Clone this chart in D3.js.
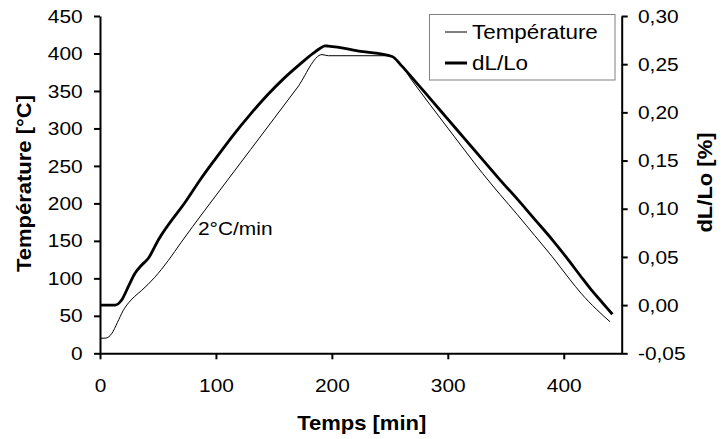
<!DOCTYPE html>
<html>
<head>
<meta charset="utf-8">
<script src="https://cdn.jsdelivr.net/npm/d3@7"></script>
<style>
  body { margin: 0; background: #fff; }
  svg { display: block; font-family: "Liberation Sans", Arial, sans-serif; }
</style>
</head>
<body>
<div id="chart"></div>
<script>
// temperature curve (left axis)
const tempTime = [0, 5, 10, 15, 20, 25, 30, 36, 47, 59, 70, 90, 110, 130, 150, 170, 191.5, 197, 250, 255, 270, 285, 300, 315, 330, 345, 360, 375, 390, 405, 415, 428, 440];
const tempValues = [20, 20.3, 26, 41, 57, 68, 76, 84, 101, 124, 148, 190, 231, 272, 313, 354, 398.5, 397, 397, 393, 362, 331, 300.5, 270, 240, 212, 185, 157, 129, 99, 80, 59, 42];

// dilatation curve (right axis)
const dlTime = [0, 13, 18.7, 24.4, 30.2, 36, 41.7, 50.3, 74.8, 86.3, 100, 115, 130, 144, 158, 172, 184, 190, 194, 197, 225, 252, 260, 271, 285, 300, 315, 330, 345, 360, 375, 390, 402, 414, 424, 433, 442];
const dlValues = [0, 0, 0.0053, 0.0191, 0.033, 0.0416, 0.0486, 0.0676, 0.1091, 0.1298, 0.1525, 0.1765, 0.1985, 0.2175, 0.2345, 0.2495, 0.2615, 0.2665, 0.269, 0.2688, 0.2633, 0.258, 0.2485, 0.2335, 0.214, 0.193, 0.172, 0.151, 0.130, 0.110, 0.089, 0.068, 0.050, 0.031, 0.0155, 0.003, -0.0095];

const timeTicks = [0, 100, 200, 300, 400];
const tempTicks = [0, 50, 100, 150, 200, 250, 300, 350, 400, 450];
const dlTicks = [-0.05, 0, 0.05, 0.10, 0.15, 0.20, 0.25, 0.30];
const seriesNames = ['Température', 'dL/Lo'];
const rateLabel = '2°C/min';

const width = 722, height = 439;
const SX = 1.1; // text looks horizontally stretched in the original

const svg = d3.select('#chart').append('svg')
  .attr('width', width)
  .attr('height', height);

const x = d3.scaleLinear().domain([0, 450]).range([100, 621.7]);
const yTemp = d3.scaleLinear().domain([0, 450]).range([353.3, 16]);
const yDl = d3.scaleLinear().domain([-0.05, 0.30]).range([353.3, 16]);

function styleAxis(g, textX, textY) {
  g.attr('font-size', 19).attr('font-family', null);
  g.select('.domain').attr('stroke', '#000').attr('stroke-width', 2);
  g.selectAll('.tick line').attr('stroke', '#000').attr('stroke-width', 2);
  g.selectAll('.tick text').attr('fill', '#000').attr('transform', `scale(${SX},1)`);
  if (textX !== null) g.selectAll('.tick text').attr('x', textX);
  if (textY !== null) g.selectAll('.tick text').attr('y', textY);
}

// axes
svg.append('g')
  .attr('transform', `translate(${x(0)},0)`)
  .call(d3.axisLeft(yTemp).tickValues(tempTicks).tickSize(6).tickSizeOuter(0))
  .call(g => styleAxis(g, -17.3 / SX, null));

svg.append('g')
  .attr('transform', `translate(${x(450)},0)`)
  .call(d3.axisRight(yDl).tickValues(dlTicks).tickSize(6).tickSizeOuter(0)
    .tickFormat(d => d.toFixed(2).replace('.', ',')))
  .call(g => styleAxis(g, 16.3 / SX, null));

svg.append('g')
  .attr('transform', `translate(0,${yTemp(0)})`)
  .call(d3.axisBottom(x).tickValues(timeTicks).tickSize(6).tickSizeOuter(0))
  .call(g => styleAxis(g, null, 25));

// curves
const tempLine = d3.line()
  .x(d => x(d[0]))
  .y(d => yTemp(d[1]))
  .curve(d3.curveMonotoneX);

const dlLine = d3.line()
  .x(d => x(d[0]))
  .y(d => yDl(d[1]))
  .curve(d3.curveMonotoneX);

svg.append('path')
  .datum(d3.zip(tempTime, tempValues))
  .attr('fill', 'none')
  .attr('stroke', '#000')
  .attr('stroke-width', 1)
  .attr('d', tempLine);

svg.append('path')
  .datum(d3.zip(dlTime, dlValues))
  .attr('fill', 'none')
  .attr('stroke', '#000')
  .attr('stroke-width', 2.8)
  .attr('stroke-linejoin', 'round')
  .attr('d', dlLine);

// text helper
function label(tx, ty, txt, opts = {}) {
  const sx = opts.sx || SX;
  return svg.append('text')
    .attr('transform', `translate(${tx},${ty})` + (opts.rotate ? ` rotate(${opts.rotate})` : '') + ` scale(${sx},1)`)
    .attr('text-anchor', opts.anchor || 'start')
    .attr('font-size', opts.size || 19)
    .attr('font-weight', opts.bold ? 'bold' : 'normal')
    .attr('fill', '#000')
    .text(txt);
}

label(198, 235, rateLabel);

// axis titles
label(31, 183.5, 'Température [°C]', { rotate: -90, anchor: 'middle', bold: true, size: 20 });
label(712, 182.5, 'dL/Lo [%]', { rotate: -90, anchor: 'middle', bold: true, size: 20 });
label(361.7, 430, 'Temps [min]', { anchor: 'middle', bold: true, size: 20 });

// legend
svg.append('rect')
  .attr('x', 429.5).attr('y', 14.5)
  .attr('width', 185.5).attr('height', 65.5)
  .attr('fill', '#fff')
  .attr('stroke', '#808080')
  .attr('stroke-width', 1);

const legendRows = [
  { name: seriesNames[0], w: 1, y: 32 },
  { name: seriesNames[1], w: 3, y: 63 }
];
legendRows.forEach(r => {
  svg.append('line')
    .attr('x1', 445).attr('x2', 467)
    .attr('y1', r.y).attr('y2', r.y)
    .attr('stroke', '#000')
    .attr('stroke-width', r.w);
  label(472, r.y + 6.7, r.name, { size: 19.5, sx: 1.15 });
});
</script>
</body>
</html>
